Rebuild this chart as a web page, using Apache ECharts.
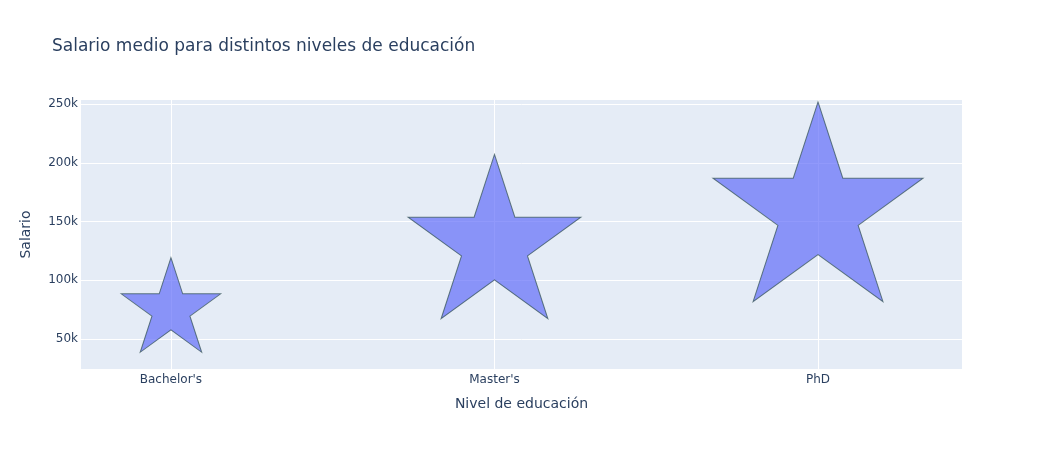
<!DOCTYPE html>
<html><head><meta charset="utf-8">
<script src="https://cdn.jsdelivr.net/npm/echarts@6/dist/echarts.min.js"></script>
<style>html,body{margin:0;padding:0;background:#fff}#c{width:1042px;height:450px}</style>
</head><body><div id="c"></div>
<script>
const categories = ["Bachelor's", "Master's", "PhD"];
const salaries = [74756, 129795, 157843];
const yTicks = [50000, 100000, 150000, 200000, 250000];
const xTicks = [0, 1, 2];

const starPath = 'path://M0,-100 L22.45,-30.9 L95.11,-30.9 L36.33,11.8 L58.78,80.9 L0,38.2 L-58.78,80.9 L-36.33,11.8 L-95.11,-30.9 L-22.45,-30.9 Z';
const sizeK = 0.0014; // diameter px per salary unit
const font = '"DejaVu Sans", Verdana, sans-serif';
const txt = '#2a3f5f';

const chart = echarts.init(document.getElementById('c'), null, {renderer: 'canvas'});
const gridLines = [];
xTicks.forEach(v => gridLines.push({xAxis: v}));
yTicks.forEach(v => gridLines.push({yAxis: v}));

chart.setOption({
  animation: false,
  backgroundColor: '#fff',
  title: {
    text: 'Salario medio para distintos niveles de educación',
    left: 47, top: 33,
    textStyle: {fontFamily: font, fontSize: 17, fontWeight: 'normal', color: txt}
  },
  grid: {left: 81, right: 80, top: 100, bottom: 81, show: true, backgroundColor: '#e5ecf6', borderWidth: 0},
  xAxis: {
    type: 'value', min: -0.278, max: 2.445,
    name: 'Nivel de educación', nameLocation: 'middle', nameGap: 28,
    nameTextStyle: {fontFamily: font, fontSize: 14, color: txt},
    axisLine: {show: false}, axisTick: {show: false}, splitLine: {show: false},
    axisLabel: {customValues: xTicks, fontFamily: font, fontSize: 12, color: txt, margin: 5,
      formatter: v => categories[Math.round(v)] || ''}
  },
  yAxis: {
    type: 'value', min: 24500, max: 253400,
    name: 'Salario', nameLocation: 'middle', nameGap: 48,
    nameTextStyle: {fontFamily: font, fontSize: 14, color: txt},
    axisLine: {show: false}, axisTick: {show: false}, splitLine: {show: false},
    axisLabel: {customValues: yTicks, fontFamily: font, fontSize: 12, color: txt, margin: 3,
      formatter: v => (v / 1000) + 'k'}
  },
  series: [
    {
      type: 'scatter', data: [], z: 1, silent: true,
      markLine: {
        silent: true, symbol: 'none', z: 1, animation: false,
        label: {show: false},
        lineStyle: {color: '#ffffff', width: 1, type: 'solid'},
        data: gridLines
      }
    },
    {
      type: 'scatter', z: 2,
      data: salaries.map((v, i) => [i, v]),
      symbol: starPath,
      symbolSize: (val) => { const d = val[1] * sizeK; return [d * 0.951, d * 0.9045]; },
      symbolOffset: [0, '-5.28%'],
      itemStyle: {color: '#636efa', opacity: 0.7, borderColor: '#2f4f4f', borderWidth: 1}
    }
  ]
});
</script></body></html>
